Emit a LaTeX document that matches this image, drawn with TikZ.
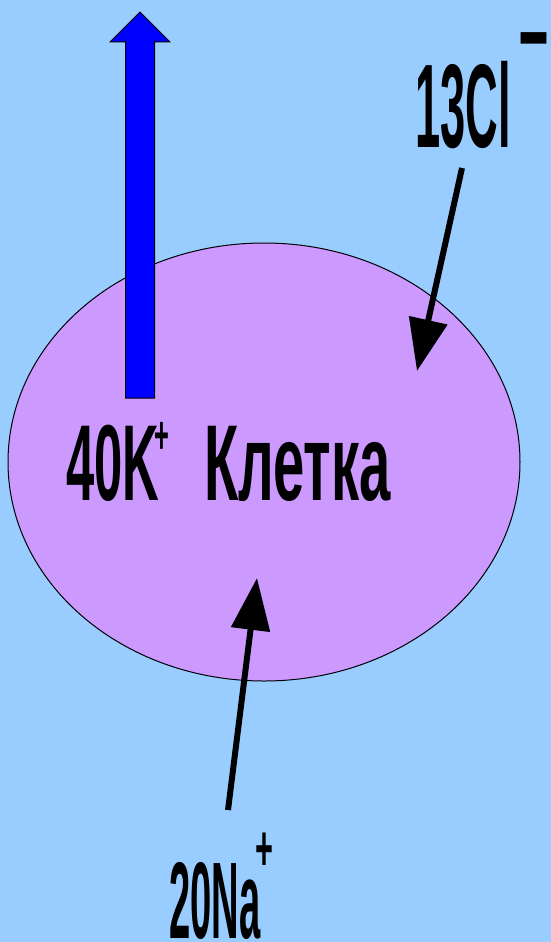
\documentclass[tikz,border=0pt]{standalone}
\usepackage{fontspec}
\setmainfont{Liberation Sans}
\usepackage{xcolor}
\usetikzlibrary{arrows.meta}

\definecolor{skyback}{RGB}{153,204,255}
\definecolor{cellfill}{RGB}{204,153,255}
\definecolor{pumpblue}{RGB}{0,0,255}

\newcommand{\ionsize}[1]{\fontsize{#1}{#1}\selectfont\bfseries}
\newcommand{\narrow}[2]{\scalebox{#1}[1]{#2}}

\begin{document}
\begin{tikzpicture}[x=1pt, y=-1pt]

\tikzset{
    ionarrow/.style={line width=6pt, -{Triangle[length=52pt, width=38pt]}},
    iontext/.style={inner sep=0pt, anchor=base west},
    cellwall/.style={draw=black, line width=1pt, fill=cellfill}
}

\useasboundingbox (0,0) rectangle (551,942);
\fill[skyback] (0,0) rectangle (551,942);

%====================================================
% cell
%====================================================
\draw[cellwall] (264,462) ellipse (256 and 219);

% potassium leaving the cell
\draw[fill=pumpblue, line width=1pt]
    (125.5,398) -- (125.5,42) -- (110,42) -- (140,12)
    -- (170,42) -- (154.5,42) -- (154.5,398) -- cycle;

%====================================================
% ions
%====================================================
\node[iontext, font=\ionsize{119}] (clion) at (415,147) {\narrow{0.38}{13Cl}};
\node[iontext, font=\ionsize{116}] (clcharge) at (519,70) {\narrow{0.45}{–}};

\node[iontext, font=\ionsize{108}] (kion) at (66,500) {\narrow{0.47}{40K}};
\node[iontext, font=\ionsize{53}] (kcharge) at (154,453.5) {\narrow{0.48}{+}};
\node[iontext, font=\ionsize{108}] (cellname) at (204,500) {\narrow{0.52}{Клетка}};

\node[iontext, font=\ionsize{109}] (naion) at (169,938) {\narrow{0.35}{20Na}};
\node[iontext, font=\ionsize{64}] (nacharge) at (255.5,870) {\narrow{0.48}{+}};

%====================================================
% arrows into the cell
%====================================================
\coordinate (clfrom) at (462,168);
\coordinate (clto) at (417,371);
\draw[ionarrow] (clfrom) -- (clto);

\coordinate (nafrom) at (228,810);
\coordinate (nato) at (257,578);
\draw[ionarrow] (nafrom) -- (nato);

\end{tikzpicture}
\end{document}
